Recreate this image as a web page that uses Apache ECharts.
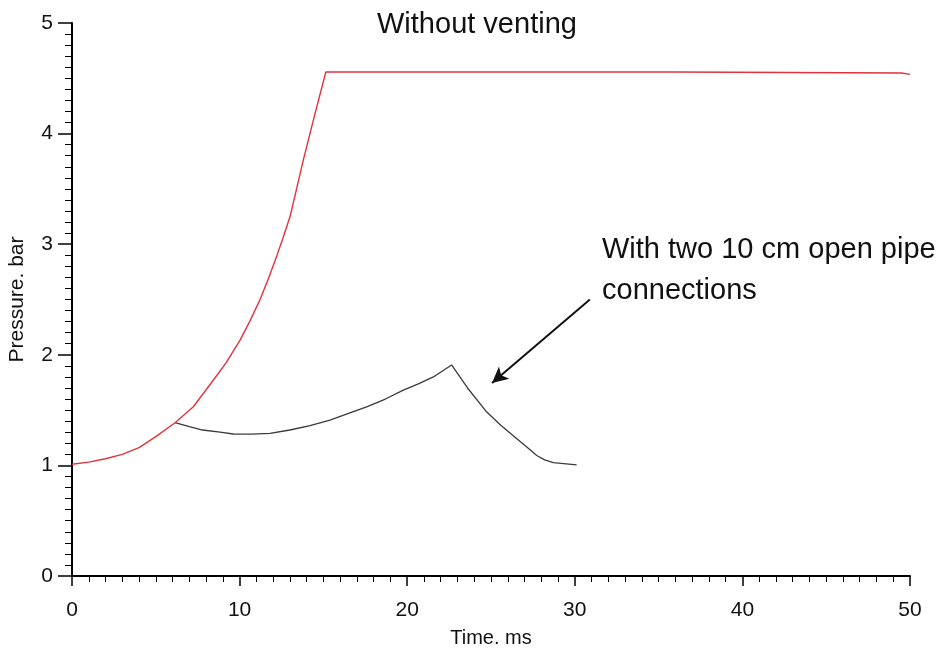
<!DOCTYPE html>
<html>
<head>
<meta charset="utf-8">
<script src="https://cdn.jsdelivr.net/npm/echarts@6/dist/echarts.min.js"></script>
<style>
  html, body { margin: 0; padding: 0; background: #fff; }
  #chart { width: 946px; height: 650px; }
</style>
</head>
<body>
<div id="chart"></div>
<script>
// time (ms), pressure (bar)
const noVenting = [
  [0, 1.01], [1, 1.03], [2, 1.06], [3, 1.1], [4, 1.16], [5, 1.26],
  [6.15, 1.386], [7.24, 1.53], [8.43, 1.77], [9.2, 1.93], [10.02, 2.13],
  [10.6, 2.3], [11.22, 2.5], [11.7, 2.68], [12.21, 2.89], [12.6, 3.06],
  [13.01, 3.25], [13.4, 3.5], [13.8, 3.76], [14.5, 4.18], [15.1, 4.53],
  [15.15, 4.557], [36, 4.557], [36.05, 4.548], [49.5, 4.548], [49.55, 4.536], [50, 4.536]
]
const withPipes = [
  [6.15, 1.386], [7, 1.35], [7.8, 1.32], [8.83, 1.3], [9.62, 1.284], [10.7, 1.283],
  [11.81, 1.29], [13, 1.32], [14.2, 1.36], [15.39, 1.41], [16.5, 1.47], [17.58, 1.53],
  [18.7, 1.6], [19.77, 1.68], [20.7, 1.74], [21.56, 1.8], [22.65, 1.908],
  [23.6, 1.7], [24.7, 1.49], [25.6, 1.36], [26.4, 1.26], [27.1, 1.17],
  [27.73, 1.09], [28.2, 1.05], [28.72, 1.025], [30.11, 1.004]
]
// arrow of the annotation, in data units
const arrowFrom = [30.9, 2.5]
const arrowTo = [25.06, 1.745]

const titleText = 'Without venting'
const noteText = 'With two 10 cm open pipe\nconnections'

const font = 'Liberation Sans, Arial, sans-serif'

const chart = echarts.init(document.getElementById('chart'))
chart.setOption({
  backgroundColor: '#fff',
  animation: false,
  title: {
    text: titleText,
    left: 372,
    top: 5,
    textStyle: { fontFamily: font, fontSize: 29, fontWeight: 'normal', color: '#111' }
  },
  grid: { left: 72, right: 36, top: 23, bottom: 74, outerBoundsMode: 'none' },
  xAxis: {
    type: 'value',
    min: 0,
    max: 50,
    interval: 10,
    name: 'Time. ms',
    nameLocation: 'middle',
    nameGap: 52,
    nameTextStyle: { fontFamily: font, fontSize: 20, color: '#111' },
    axisLine: { lineStyle: { color: '#000', width: 2 } },
    axisTick: { length: 10, lineStyle: { color: '#000', width: 1.5 } },
    minorTick: { show: true, splitNumber: 10, length: 6, lineStyle: { color: '#000', width: 1 } },
    axisLabel: { margin: 24, fontFamily: font, fontSize: 21, color: '#111' },
    splitLine: { show: false }
  },
  yAxis: {
    type: 'value',
    min: 0,
    max: 5,
    interval: 1,
    name: 'Pressure. bar',
    nameLocation: 'middle',
    nameGap: 44,
    nameTextStyle: { fontFamily: font, fontSize: 21, color: '#111' },
    axisLine: { show: true, lineStyle: { color: '#000', width: 2 } },
    axisTick: { show: true, length: 14, lineStyle: { color: '#000', width: 1.5 } },
    minorTick: { show: true, splitNumber: 10, length: 7, lineStyle: { color: '#000', width: 1 } },
    axisLabel: { margin: 19, fontFamily: font, fontSize: 21, color: '#111' },
    splitLine: { show: false }
  },
  graphic: [
    {
      type: 'text',
      left: 602,
      top: 229,
      style: { text: noteText, fontFamily: font, fontSize: 29, lineHeight: 41, fill: '#111' }
    }
  ],
  series: [
    {
      name: 'Without venting',
      type: 'line',
      data: noVenting,
      symbol: 'none',
      lineStyle: { color: '#e2323c', width: 1.4 },
      z: 3
    },
    {
      name: 'With pipes',
      type: 'line',
      data: withPipes,
      symbol: 'none',
      lineStyle: { color: '#3a3a3a', width: 1.3 },
      z: 2,
      markLine: {
        silent: true,
        symbol: ['none', 'arrow'],
        symbolSize: [12, 16],
        label: { show: false },
        lineStyle: { color: '#111', width: 2, type: 'solid' },
        data: [[{ coord: arrowFrom }, { coord: arrowTo }]]
      }
    }
  ]
})
</script>
</body>
</html>
